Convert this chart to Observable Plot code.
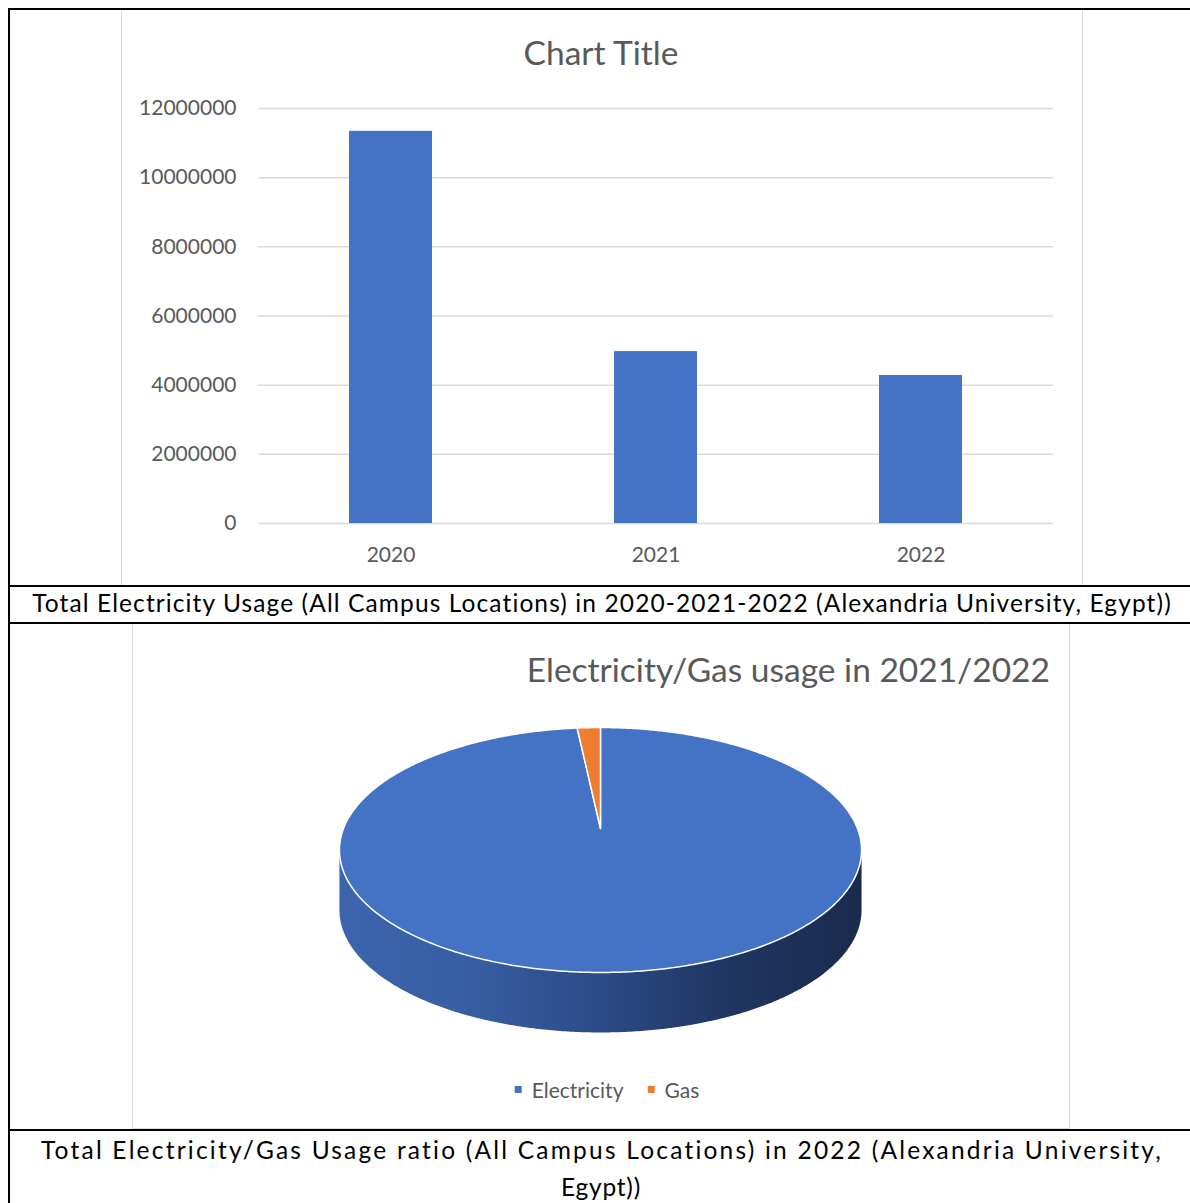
<!DOCTYPE html>
<html>
<head>
<meta charset="utf-8">
<script src="https://cdn.jsdelivr.net/npm/d3@7"></script>
<script src="https://cdn.jsdelivr.net/npm/@observablehq/plot@0.6"></script>
<style>
  html, body { margin: 0; padding: 0; background: #fff; }
  #page { position: relative; width: 1190px; height: 1203px; overflow: hidden; font-family: Lato, "Open Sans", sans-serif; }
  .line { position: absolute; background: #000; }
  .box { position: absolute; border: 1.5px solid #d9d9d9; box-sizing: border-box; }
  .txt { position: absolute; white-space: nowrap; line-height: 1.2; }
  .chart { position: absolute; }
  #legend { position: absolute; display: flex; align-items: center; font-size: 21px; color: #595959; line-height: 1.2; }
  #legend .item { display: flex; align-items: center; margin: 0 12px; }
  #legend .sw { width: 7px; height: 7px; margin-right: 10px; }
</style>
</head>
<body>
<div id="page"></div>
<script>
// ---------- data ----------
const years = ["2020", "2021", "2022"];
const electricityUsage = [11340000, 4970000, 4280000];
const yTicks = [0, 2000000, 4000000, 6000000, 8000000, 10000000, 12000000];

const pieNames = ["Electricity", "Gas"];
const pieShares = [98.3, 1.7];
const pieColors = ["#4472c4", "#ed7d31"];

const barTitle = "Chart Title";
const pieTitle = "Electricity/Gas usage in 2021/2022";
const caption1 = "Total Electricity Usage (All Campus Locations) in 2020-2021-2022 (Alexandria University, Egypt))";
const caption2a = "Total Electricity/Gas Usage ratio (All Campus Locations) in 2022 (Alexandria University,";
const caption2b = "Egypt))";

// ---------- page frame ----------
const page = document.getElementById("page");
function el(tag, cls, style, text) {
  const e = document.createElement(tag);
  if (cls) e.className = cls;
  Object.assign(e.style, style || {});
  if (text != null) e.textContent = text;
  page.appendChild(e);
  return e;
}
function px(v) { return v + "px"; }
// text placed by baseline (Lato ascent ~0.987em with line-height 1.2)
function text(str, {x, baseline, size, anchor = "middle", color = "#000", fit = null}) {
  const e = el("div", "txt", {fontSize: px(size), color, top: px(baseline - 0.987 * size)}, str);
  if (fit) {
    const w = e.getBoundingClientRect().width;
    e.style.letterSpacing = px((fit - w) / str.length);
  }
  if (anchor === "middle") { e.style.left = px(x); e.style.transform = "translateX(-50%)"; }
  else if (anchor === "end") { e.style.right = px(1190 - x); }
  else { e.style.left = px(x); }
  return e;
}

// chart area boxes
el("div", "box", {left: "121px", top: "9px", width: "962px", height: "578px"});
el("div", "box", {left: "132px", top: "623px", width: "938px", height: "506px"});

// table lines
el("div", "line", {left: "8px", top: "8px", width: "2px", height: "1195px"});
el("div", "line", {left: "8px", top: "8px", width: "1182px", height: "2px"});
el("div", "line", {left: "8px", top: "585px", width: "1182px", height: "2px"});
el("div", "line", {left: "8px", top: "622px", width: "1182px", height: "2px"});
el("div", "line", {left: "8px", top: "1129px", width: "1182px", height: "2px"});

// ---------- bar chart ----------
const barData = years.map((y, i) => ({year: y, value: electricityUsage[i]}));
const bar = Plot.plot({
  width: 960, height: 577,
  marginLeft: 136, marginRight: 29, marginTop: 99, marginBottom: 63,
  style: {fontFamily: "Lato, 'Open Sans', sans-serif", fontSize: "21px", color: "#595959", background: "transparent", overflow: "visible"},
  x: {type: "band", domain: years, paddingInner: 0.687, paddingOuter: 0.3435, align: 0.5},
  y: {domain: [0, 12000000]},
  marks: [
    Plot.ruleY(yTicks, {stroke: "#d9d9d9", strokeWidth: 1.5}),
    Plot.barY(barData, {x: "year", y: "value", fill: "#4472c4"}),
    Plot.axisY(yTicks, {tickSize: 0, tickPadding: 22, tickFormat: d3.format("d"), label: null}),
    Plot.axisX({tickSize: 0, tickPadding: 24, label: null})
  ]
});
bar.classList.add("chart");
bar.style.left = "122px"; bar.style.top = "9px";
page.appendChild(bar);

text(barTitle, {x: 601, baseline: 65, size: 33.5, color: "#595959"});

// ---------- 3D pie ----------
const k = 0.1755;      // perspective strength
const depth = 0.5055;  // wall height in y units
function project(a, drop = 0) {
  const u = Math.sin(a), v = -Math.cos(a), d = 1 - k * v;
  return {x: u / d, y: v / d + drop};
}
function samples(a0, a1) {
  const n = Math.max(2, Math.ceil(Math.abs(a1 - a0) / (Math.PI / 360)));
  return d3.range(n + 1).map(i => a0 + (a1 - a0) * i / n);
}
const arcs = d3.pie().sort(null)(pieShares);
const frontStart = Math.acos(-k), frontEnd = 2 * Math.PI - Math.acos(-k);

const wallMarks = [], topMarks = [];
arcs.forEach((arc, i) => {
  const lo = Math.max(arc.startAngle, frontStart), hi = Math.min(arc.endAngle, frontEnd);
  if (lo < hi) {
    const pts = samples(lo, hi).map(a => project(a)).concat(samples(hi, lo).map(a => project(a, depth)));
    wallMarks.push(Plot.line(pts, {x: "x", y: "y", fill: `url(#wall${i})`, stroke: "none"}));
  }
  const face = [{x: 0, y: 0}].concat(samples(arc.startAngle, arc.endAngle).map(a => project(a)), [{x: 0, y: 0}]);
  topMarks.push(Plot.line(face, {x: "x", y: "y", fill: pieColors[i], stroke: "white", strokeWidth: 1.5, strokeLinejoin: "round"}));
});

const pie = Plot.plot({
  width: 936, height: 504, margin: 0,
  style: {background: "transparent", overflow: "visible"},
  x: {domain: [-1, 1], range: [210, 724], axis: null},
  y: {domain: [-1, 1], range: [85.3, 322.7], axis: null},
  marks: [...wallMarks, ...topMarks]
});
// gradients for the side walls
const ns = "http://www.w3.org/2000/svg";
const defs = document.createElementNS(ns, "defs");
const wallStops = [
  [["0", "#3c65ae"], ["0.25", "#375ea3"], ["0.5", "#2c4a86"], ["0.75", "#1f3561"], ["1", "#1a2b4d"]],
  [["0", "#d8732e"], ["0.5", "#a8571f"], ["1", "#7a3e14"]]
];
wallStops.forEach((stops, i) => {
  const g = document.createElementNS(ns, "linearGradient");
  g.setAttribute("id", "wall" + i);
  g.setAttribute("x1", "0"); g.setAttribute("x2", "1"); g.setAttribute("y1", "0"); g.setAttribute("y2", "0");
  stops.forEach(([o, c]) => {
    const s = document.createElementNS(ns, "stop");
    s.setAttribute("offset", o); s.setAttribute("stop-color", c);
    g.appendChild(s);
  });
  defs.appendChild(g);
});
pie.insertBefore(defs, pie.firstChild);
pie.classList.add("chart");
pie.style.left = "133px"; pie.style.top = "624px";
page.appendChild(pie);

text(pieTitle, {x: 1050, baseline: 682, size: 33.5, anchor: "end", color: "#595959"});

// legend
const legend = el("div", null, {});
legend.id = "legend";
pieNames.forEach((n, i) => {
  const item = document.createElement("div"); item.className = "item";
  const sw = document.createElement("div"); sw.className = "sw"; sw.style.background = pieColors[i];
  const t = document.createElement("span"); t.textContent = n;
  item.appendChild(sw); item.appendChild(t);
  legend.appendChild(item);
});
legend.style.left = "607px"; legend.style.transform = "translateX(-50%)";
legend.style.top = px(1098 - 0.987 * 21);

// captions
text(caption1, {x: 602, baseline: 612, size: 24.5, fit: 1140});
text(caption2a, {x: 602, baseline: 1159, size: 24.5, fit: 1123});
text(caption2b, {x: 601, baseline: 1196, size: 24.5, fit: 80});
</script>
</body>
</html>
